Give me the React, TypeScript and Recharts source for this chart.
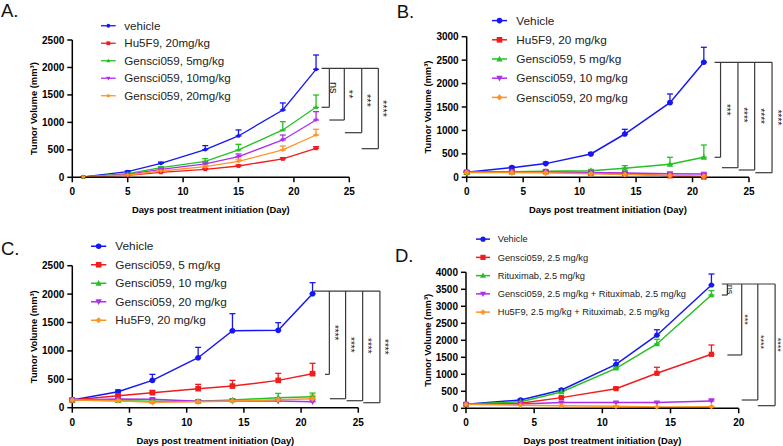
import React from "react";
import {
  LineChart,
  Line,
  XAxis,
  YAxis,
  ErrorBar,
  ReferenceLine,
  ReferenceDot,
  Legend,
} from "recharts";

const FONT = '"Liberation Sans", Arial, Helvetica, sans-serif';
const BLUE = "#1717f2";
const RED = "#f21c1c";
const GREEN = "#25c125";
const PURPLE = "#ae2eea";
const ORANGE = "#ff9326";

// ---- panel A ----
const daysA = [1, 5, 8, 12, 15, 19, 22];
const vehicleA = [8, 103, 255, 504, 753, 1226, 1966];
const vehicleErrA = [4, 14, 22, 73, 109, 128, 261];
const hu5f9A = [8, 36, 91, 146, 206, 334, 528];
const hu5f9ErrA = [2, 6, 10, 15, 18, 22, 30];
const g5A = [8, 67, 176, 291, 498, 862, 1275];
const g5ErrA = [3, 10, 18, 49, 102, 151, 223];
const g10A = [8, 55, 146, 243, 376, 680, 1043];
const g10ErrA = [3, 8, 14, 30, 49, 90, 152];
const g20A = [8, 42, 115, 194, 291, 498, 770];
const g20ErrA = [3, 7, 12, 25, 40, 72, 104];
const namesA = ["vehicle", "Hu5F9, 20mg/kg", "Gensci059, 5mg/kg", "Gensci059, 10mg/kg", "Gensci059, 20mg/kg"];
const sigA = ["ns", "**", "***", "****"];
const sigTopA = 1985;
const sigBottomsA = [1275, 1043, 812, 521];

// ---- panel B ----
const daysB = [0, 4, 7, 11, 14, 18, 21];
const vehicleB = [107, 206, 292, 498, 924, 1593, 2454];
const vehicleErrB = [20, 25, 30, 30, 100, 185, 320];
const hu5f9B = [107, 120, 120, 92, 78, 35, 10];
const hu5f9ErrB = [15, 15, 15, 10, 10, 8, 5];
const g5B = [107, 118, 128, 142, 192, 277, 427];
const g5ErrB = [15, 20, 20, 25, 57, 150, 262];
const g10B = [107, 110, 110, 100, 90, 78, 70];
const g10ErrB = [10, 10, 10, 10, 10, 15, 15];
const g20B = [100, 100, 95, 75, 60, 40, 20];
const g20ErrB = [10, 10, 10, 10, 10, 10, 10];
const namesB = ["Vehicle", "Hu5F9, 20 mg/kg", "Gensci059, 5 mg/kg", "Gensci059, 10 mg/kg", "Gensci059, 20 mg/kg"];
const sigB = ["***", "****", "****", "****"];
const sigTopB = 2454;
const sigBottomsB = [427, 205, 156, 98];

// ---- panel C ----
const daysC = [0, 4, 7, 11, 14, 18, 21];
const vehicleC = [135, 282, 481, 880, 1356, 1362, 2007];
const vehicleErrC = [15, 30, 106, 182, 299, 135, 194];
const g5C = [135, 211, 264, 335, 381, 481, 599];
const g5ErrC = [15, 20, 40, 76, 100, 124, 182];
const g10C = [135, 123, 112, 112, 135, 176, 194];
const g10ErrC = [10, 15, 20, 20, 25, 76, 64];
const g20C = [135, 153, 147, 112, 117, 117, 106];
const g20ErrC = [10, 10, 10, 10, 10, 10, 10];
const hu5f9C = [135, 123, 94, 106, 117, 141, 158];
const hu5f9ErrC = [10, 10, 15, 10, 10, 20, 65];
const namesC = ["Vehicle", "Gensci059, 5 mg/kg", "Gensci059, 10 mg/kg", "Gensci059, 20 mg/kg", "Hu5F9, 20 mg/kg"];
const sigC = ["****", "****", "****", "****"];
const sigTopC = 2054;
const sigBottomsC = [587, 158, 123, 88];

// ---- panel D ----
const daysD = [0, 4, 7, 11, 14, 18];
const vehicleD = [118, 245, 539, 1294, 2150, 3626];
const vehicleErrD = [15, 30, 40, 127, 160, 324];
const g25D = [118, 147, 314, 578, 1029, 1588];
const g25ErrD = [10, 20, 30, 40, 177, 274];
const rituxD = [118, 196, 480, 1176, 1891, 3332];
const rituxErrD = [10, 20, 30, 40, 138, 127];
const comboD = [118, 127, 167, 167, 167, 215];
const comboErrD = [10, 10, 15, 15, 20, 59];
const hu5f9ComboD = [118, 88, 78, 59, 39, 47];
const hu5f9ComboErrD = [10, 10, 10, 10, 10, 10];
const namesD = [
  "Vehicle",
  "Gensci059, 2.5 mg/kg",
  "Rituximab, 2.5 mg/kg",
  "Gensci059, 2.5 mg/kg + Rituximab, 2.5 mg/kg",
  "Hu5F9, 2.5 mg/kg + Rituximab, 2.5 mg/kg",
];
const sigD = ["ns", "***", "****", "****"];
const sigTopD = 3656;
const sigBottomsD = [3332, 1568, 244, 77];

const ticks = (max: number, step: number) => {
  const out: number[] = [];
  for (let v = 0; v <= max; v += step) out.push(v);
  return out;
};

type Shape = "circle" | "square" | "up" | "down" | "diamond";

const drawMarker = (shape: Shape, cx: number, cy: number, s: number, color: string, key?: any) => {
  const h = s / 2;
  if (cx == null || cy == null) return <g key={key} />;
  switch (shape) {
    case "circle":
      return <circle key={key} cx={cx} cy={cy} r={h} fill={color} />;
    case "square":
      return <rect key={key} x={cx - h} y={cy - h} width={s} height={s} fill={color} />;
    case "up":
      return (
        <path key={key} fill={color}
          d={`M${cx},${cy - h * 1.2}L${cx + h * 1.15},${cy + h * 0.85}L${cx - h * 1.15},${cy + h * 0.85}Z`} />
      );
    case "down":
      return (
        <path key={key} fill={color}
          d={`M${cx},${cy + h * 1.2}L${cx + h * 1.15},${cy - h * 0.85}L${cx - h * 1.15},${cy - h * 0.85}Z`} />
      );
    default:
      return (
        <path key={key} fill={color}
          d={`M${cx},${cy - h * 1.1}L${cx + h * 1.1},${cy}L${cx},${cy + h * 1.1}L${cx - h * 1.1},${cy}Z`} />
      );
  }
};

type Series = { name: string; values: number[]; errors: number[]; color: string; shape: Shape };

type PanelCfg = {
  letter: string;
  days: number[];
  series: Series[];
  left: number;
  top: number;
  width: number;
  height: number;
  margin: { top: number; right: number; bottom: number; left: number };
  yAxisWidth: number;
  xAxisHeight: number;
  yLabelOffset: number;
  xMax: number;
  yMax: number;
  markerSize: number;
  lineWidth: number;
  legend: { x: number; y: number; rowH: number; lineLen: number; textX: number; fontSize: number; width: number };
  sig: {
    labels: string[];
    top: number;
    bottoms: number[];
    topStart: number;
    xs: number[];
    bottomStarts: number[];
    labelDx: number;
    fontSize: number;
  };
};

const mk = (names: string[], vals: number[][], errs: number[][], colors: string[], shapes: Shape[]): Series[] =>
  names.map((name, i) => ({ name, values: vals[i], errors: errs[i], color: colors[i], shape: shapes[i] }));

const COLORS = [BLUE, RED, GREEN, PURPLE, ORANGE];
const SHAPES: Shape[] = ["circle", "square", "up", "down", "diamond"];

const panels: PanelCfg[] = [
  {
    letter: "A.",
    days: daysA,
    series: mk(namesA, [vehicleA, hu5f9A, g5A, g10A, g20A], [vehicleErrA, hu5f9ErrA, g5ErrA, g10ErrA, g20ErrA],
      COLORS, SHAPES),
    left: 0, top: 0, width: 391, height: 223,
    margin: { top: 40, right: 41.7, bottom: 10, left: 0 },
    yAxisWidth: 72.3, xAxisHeight: 35.7, yLabelOffset: 33.3,
    xMax: 25, yMax: 2500, markerSize: 3.8, lineWidth: 1.3,
    legend: { x: 101, y: 26, rowH: 17.5, lineLen: 14.7, textX: 23.3, fontSize: 11.6, width: 180 },
    sig: { labels: sigA, top: sigTopA, bottoms: sigBottomsA, topStart: 22.5, xs: [23.2, 24.55, 26.12, 27.62],
      bottomStarts: [22.5, 23.2, 24.6, 26.12], labelDx: 0.45, fontSize: 11 },
  },
  {
    letter: "B.",
    days: daysB,
    series: mk(namesB, [vehicleB, hu5f9B, g5B, g10B, g20B], [vehicleErrB, hu5f9ErrB, g5ErrB, g10ErrB, g20ErrB],
      COLORS, SHAPES),
    left: 391, top: 0, width: 392, height: 223,
    margin: { top: 36.7, right: 34, bottom: 10, left: 0 },
    yAxisWidth: 75.7, xAxisHeight: 35.7, yLabelOffset: 36.3,
    xMax: 25, yMax: 3000, markerSize: 5.6, lineWidth: 1.5,
    legend: { x: 100.7, y: 21, rowH: 19.2, lineLen: 15, textX: 24.3, fontSize: 11.8, width: 200 },
    sig: { labels: sigB, top: sigTopB, bottoms: sigBottomsB, topStart: 21.95, xs: [22.48, 24.02, 25.5, 27.04],
      bottomStarts: [21.95, 22.6, 24.08, 25.56], labelDx: 0.5, fontSize: 10 },
  },
  {
    letter: "C.",
    days: daysC,
    series: mk(namesC, [vehicleC, g5C, g10C, g20C, hu5f9C], [vehicleErrC, g5ErrC, g10ErrC, g20ErrC, hu5f9ErrC],
      COLORS, SHAPES),
    left: 0, top: 223, width: 391, height: 223,
    margin: { top: 42.7, right: 32.7, bottom: 2, left: 0 },
    yAxisWidth: 72.3, xAxisHeight: 36.3, yLabelOffset: 33.3,
    xMax: 25, yMax: 2500, markerSize: 5.6, lineWidth: 1.5,
    legend: { x: 90.7, y: 23.7, rowH: 18.5, lineLen: 15.3, textX: 24.3, fontSize: 11.8, width: 200 },
    sig: { labels: sigC, top: sigTopC, bottoms: sigBottomsC, topStart: 21.07, xs: [22.47, 23.89, 25.38, 26.89],
      bottomStarts: [22.09, 22.52, 23.98, 25.44], labelDx: 0.44, fontSize: 10 },
  },
  {
    letter: "D.",
    days: daysD,
    series: mk(namesD, [vehicleD, g25D, rituxD, comboD, hu5f9ComboD],
      [vehicleErrD, g25ErrD, rituxErrD, comboErrD, hu5f9ComboErrD], COLORS, SHAPES),
    left: 391, top: 223, width: 392, height: 223,
    margin: { top: 49.3, right: 44.3, bottom: 2.5, left: 0 },
    yAxisWidth: 75, xAxisHeight: 35.2, yLabelOffset: 36.3,
    xMax: 20, yMax: 4000, markerSize: 5.2, lineWidth: 1.5,
    legend: { x: 85, y: 16.3, rowH: 18.25, lineLen: 14, textX: 21.7, fontSize: 9.3, width: 300 },
    sig: { labels: sigD, top: sigTopD, bottoms: sigBottomsD, topStart: 18.76, xs: [19.17, 20.22, 21.4, 22.67],
      bottomStarts: [18.76, 19.17, 20.22, 21.4], labelDx: 0.22, fontSize: 9 },
  },
];

const letterPos = [
  { x: 1, y: 16.7 },
  { x: 396.7, y: 18 },
  { x: 1, y: 255 },
  { x: 395, y: 261.7 },
];

const axisStyle = { stroke: "#000", strokeWidth: 1.5 };
const tickStyle = { fill: "#000", fontSize: 10, fontWeight: "bold" as const, fontFamily: FONT };

function PanelLegend({ cfg }: { cfg: PanelCfg }) {
  const L = cfg.legend;
  return (
    <svg width={L.width} height={L.rowH * cfg.series.length} style={{ display: "block", overflow: "visible" }}>
      {cfg.series.map((s, i) => {
        const cy = L.rowH / 2 + i * L.rowH;
        return (
          <g key={s.name}>
            <line x1={0} x2={L.lineLen} y1={cy} y2={cy} stroke={s.color} strokeWidth={cfg.lineWidth} />
            {drawMarker(s.shape, L.lineLen / 2, cy, cfg.markerSize, s.color)}
            <text x={L.textX} y={cy + L.fontSize * 0.36} fontSize={L.fontSize} fill="#222" fontFamily={FONT}>
              {s.name}
            </text>
          </g>
        );
      })}
    </svg>
  );
}

// rotated significance text, centred on the reference dot
const sigLabel = (text: string, size: number) => (props: any) => {
  const vb = props.viewBox || {};
  const x = (vb.x ?? 0) + (vb.width ?? 0) / 2;
  const y = (vb.y ?? 0) + (vb.height ?? 0) / 2;
  return (
    <text
      x={x}
      y={y}
      transform={`rotate(90 ${x} ${y})`}
      textAnchor="middle"
      dominantBaseline="central"
      fill="#222"
      fontSize={size}
      fontFamily={FONT}
    >
      {text}
    </text>
  );
};

function Panel({ cfg }: { cfg: PanelCfg }) {
  const data = cfg.days.map((d, i) => {
    const row: any = { day: d };
    cfg.series.forEach((s, k) => {
      row[`s${k}`] = s.values[i];
      row[`e${k}`] = [0, s.errors[i]];
    });
    return row;
  });
  const sg = cfg.sig;
  const lastX = sg.xs[sg.xs.length - 1];
  const sigColor = "#3a3a3a";

  return (
    <div style={{ position: "absolute", left: cfg.left, top: cfg.top }}>
      <LineChart width={cfg.width} height={cfg.height} data={data} margin={cfg.margin}>
        <XAxis
          dataKey="day"
          type="number"
          domain={[0, cfg.xMax]}
          ticks={ticks(cfg.xMax, 5)}
          interval={0}
          height={cfg.xAxisHeight}
          axisLine={axisStyle}
          tickLine={axisStyle}
          tickSize={5}
          tickMargin={6}
          tick={tickStyle}
          label={{
            value: "Days post treatment initiation (Day)",
            position: "insideBottom",
            offset: 0,
            fill: "#000",
            fontSize: 9.4,
            fontWeight: "bold",
            fontFamily: FONT,
          }}
        />
        <YAxis
          type="number"
          domain={[0, cfg.yMax]}
          ticks={ticks(cfg.yMax, 500)}
          interval={0}
          width={cfg.yAxisWidth}
          axisLine={axisStyle}
          tickLine={axisStyle}
          tickSize={5}
          tickMargin={3}
          tick={tickStyle}
          label={{
            value: "Tumor Volume (mm³)",
            angle: -90,
            position: "insideLeft",
            offset: cfg.yLabelOffset,
            fill: "#000",
            fontSize: 9.4,
            fontWeight: "bold",
            fontFamily: FONT,
            style: { textAnchor: "middle" },
          }}
        />
        <ReferenceLine
          segment={[{ x: sg.topStart, y: sg.top }, { x: lastX, y: sg.top }]}
          stroke={sigColor}
          strokeWidth={1.2}
          ifOverflow="visible"
        />
        {sg.labels.map((lab, i) => (
          <ReferenceLine
            key={`v${i}`}
            segment={[{ x: sg.xs[i], y: sg.top }, { x: sg.xs[i], y: sg.bottoms[i] }]}
            stroke={sigColor}
            strokeWidth={1.2}
            ifOverflow="visible"
          />
        ))}
        {sg.labels.map((lab, i) => (
          <ReferenceLine
            key={`b${i}`}
            segment={[{ x: sg.bottomStarts[i], y: sg.bottoms[i] }, { x: sg.xs[i], y: sg.bottoms[i] }]}
            stroke={sigColor}
            strokeWidth={1.2}
            ifOverflow="visible"
          />
        ))}
        {sg.labels.map((lab, i) => (
          <ReferenceDot
            key={`l${i}`}
            x={sg.xs[i] + sg.labelDx}
            y={(sg.top + sg.bottoms[i]) / 2}
            r={0}
            fill="none"
            stroke="none"
            ifOverflow="visible"
            label={{ content: sigLabel(lab, sg.fontSize) }}
          />
        ))}
        {cfg.series.map((s, k) => (
          <Line
            key={s.name}
            name={s.name}
            dataKey={`s${k}`}
            stroke={s.color}
            strokeWidth={cfg.lineWidth}
            isAnimationActive={false}
            activeDot={false}
            dot={(p: any) => drawMarker(s.shape, p.cx, p.cy, cfg.markerSize, s.color, `${s.name}-${p.index}`)}
          >
            <ErrorBar
              dataKey={`e${k}`}
              direction="y"
              width={3}
              stroke={s.color}
              strokeWidth={1.3}
              isAnimationActive={false}
            />
          </Line>
        ))}
        <Legend
          layout="vertical"
          align="center"
          verticalAlign="middle"
          wrapperStyle={{
            left: cfg.legend.x,
            top: cfg.legend.y - cfg.legend.rowH / 2,
            width: cfg.legend.width,
          }}
          content={() => <PanelLegend cfg={cfg} />}
        />
      </LineChart>
    </div>
  );
}

export default function App() {
  return (
    <div
      style={{
        position: "absolute",
        left: 0,
        top: 0,
        width: 783,
        height: 446,
        background: "#fff",
        fontFamily: FONT,
        overflow: "hidden",
      }}
    >
      {panels.map((p) => (
        <Panel key={p.letter} cfg={p} />
      ))}
      <svg width={783} height={446} style={{ position: "absolute", left: 0, top: 0, pointerEvents: "none" }}>
        {panels.map((p, i) => (
          <text key={p.letter} x={letterPos[i].x} y={letterPos[i].y} fontSize={18.5} fill="#111" fontFamily={FONT}>
            {p.letter}
          </text>
        ))}
      </svg>
    </div>
  );
}
